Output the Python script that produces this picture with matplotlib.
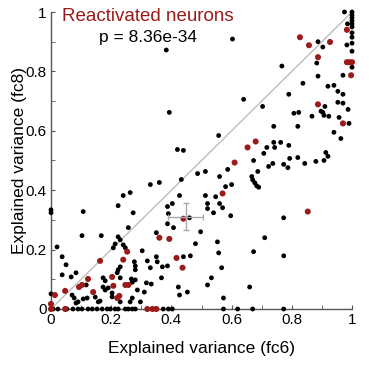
import numpy as np
import matplotlib
matplotlib.use("Agg")
import matplotlib.pyplot as plt

plt.rcParams['font.family'] = ['Liberation Sans', 'DejaVu Sans']

# all neurons (fc6 vs fc8 explained variance)
black_x = [1.0, 1.0, 1.0, 1.0, 1.0, 0.985, 1.0, 1.0, 1.0, 0.975,
           0.983, 1.0, 1.0, 1.0, 0.97, 0.953, 0.97, 0.953, 0.97, 0.987, 0.99, 0.963, 0.94,
           0.887, 0.903, 0.883, 0.767, 0.887, 0.837, 0.92, 0.94, 0.79, 0.64, 0.703, 0.91,
           0.823, 0.807, 0.897, 0.867, 0.903, 0.907, 0.923, 0.957,
           0.74, 0.82, 0.717, 0.74, 0.743, 0.763, 0.79, 0.707, 0.673, 0.793, 0.82, 0.843,
           0.88, 0.907, 0.913, 0.92, 0.723, 0.737, 0.773, 0.787, 0.687, 0.667, 0.67, 0.677,
           0.683, 0.69, 0.773, 0.603, 0.557, 0.383, 0.393, 0.42, 0.44,
           0.513, 0.587, 0.56, 0.58, 0.60, 0.513, 0.547, 0.52, 0.52, 0.54, 0.56, 0.57, 0.597,
           0.497, 0.71, 0.553, 0.557, 0.673, 0.773, 0.567, 0.533, 0.52, 0.66, 0.573,
           0.33, 0.36, 0.433, 0.487, 0.427, 0.387, 0.403, 0.39, 0.387, 0.407, 0.46, 0.48,
           0.44, 0.463, 0.423, 0.427, 0.453,
           0.24, 0.263, 0.223, 0.107, 0.273, 0.0, 0.0,
           0.257, 0.35, 0.303, 0.32, 0.35, 0.353, 0.33, 0.37, 0.387, 0.367, 0.317, 0.333,
           0.31, 0.27,
           0.02, 0.103, 0.167, 0.223, 0.23, 0.213, 0.207, 0.24, 0.247, 0.037, 0.05, 0.23,
           0.223, 0.277, 0.28, 0.28, 0.037, 0.067, 0.083, 0.173, 0.18, 0.22, 0.23, 0.267,
           0.28, 0.117, 0.173, 0.18, 0.19, 0.203, 0.203, 0.287, 0.27, 0.07, 0.077, 0.147,
           0.107, 0.12, 0.09, 0.083, 0.157, 0.163, 0.23, 0.263, 0.297, 0.0,
           0.007, 0.023, 0.053, 0.073, 0.09, 0.103, 0.123, 0.137, 0.153, 0.17, 0.187,
           0.197, 0.213, 0.223, 0.247, 0.257, 0.27, 0.28, 0.373, 0.39, 0.403, 0.573,
           0.62, 0.67, 0.773]
black_y = [1.0, 0.99, 0.98, 0.97, 0.96, 0.96, 0.95, 0.93, 0.915, 1.0,
           0.889, 0.895, 0.868, 0.814, 0.787, 0.733, 0.723, 0.696, 0.693, 0.672, 0.625, 0.574, 0.595,
           0.90, 0.882, 0.828, 0.818, 0.784, 0.76, 0.75, 0.753, 0.723, 0.706, 0.682, 0.682,
           0.662, 0.659, 0.666, 0.649, 0.662, 0.652, 0.649, 0.645,
           0.615, 0.615, 0.544, 0.561, 0.544, 0.561, 0.551, 0.524, 0.50, 0.507, 0.51, 0.49,
           0.497, 0.50, 0.527, 0.514, 0.48, 0.49, 0.487, 0.476, 0.463, 0.446, 0.435, 0.425,
           0.415, 0.41, 0.307, 0.909, 0.584, 0.872, 0.662, 0.537, 0.534,
           0.463, 0.47, 0.446, 0.412, 0.419, 0.382, 0.378, 0.355, 0.338, 0.324, 0.355, 0.341, 0.314,
           0.26, 0.24, 0.226, 0.189, 0.193, 0.179, 0.139, 0.105, 0.081, 0.074, 0.037,
           0.419, 0.426, 0.436, 0.456, 0.382, 0.345, 0.355, 0.321, 0.287, 0.274, 0.307, 0.22,
           0.176, 0.179, 0.074, 0.047, 0.057,
           0.382, 0.392, 0.348, 0.328, 0.324, 0.334, 0.324,
           0.274, 0.257, 0.196, 0.162, 0.176, 0.159, 0.139, 0.142, 0.145, 0.105, 0.088, 0.084,
           0.057, 0.09,
           0.209, 0.247, 0.247, 0.243, 0.233, 0.219, 0.206, 0.216, 0.206, 0.176, 0.149, 0.142,
           0.132, 0.159, 0.145, 0.132, 0.115, 0.108, 0.122, 0.105, 0.095, 0.122, 0.105, 0.101,
           0.098, 0.081, 0.074, 0.064, 0.071, 0.054, 0.041, 0.064, 0.037, 0.047, 0.037, 0.04,
           0.034, 0.037, 0.024, 0.02, 0.024, 0.027, 0.024, 0.024, 0.024, 0.051,
           0.0, 0.0, 0.0, 0.0, 0.0, 0.0, 0.0, 0.0, 0.0, 0.0, 0.0,
           0.0, 0.0, 0.0, 0.0, 0.0, 0.0, 0.0, 0.0, 0.0, 0.0, 0.0,
           0.0, 0.0, 0.0]

# reactivated neurons
red_x = [0.983, 0.827, 0.857, 0.927, 0.887, 0.983, 0.99, 1.0, 0.997, 0.887, 0.97,
         0.653, 0.68, 0.61, 0.57, 0.853, 0.44, 0.36, 0.393, 0.417, 0.437, 0.163, 0.24,
         0.253, 0.203, 0.123, 0.093, 0.103, 0.207, 0.247, 0.257, 0.14, 0.227, 0.22,
         0.047, 0.013, 0.0, 0.0, 0.047, 0.32, 0.337, 0.35]
red_y = [0.94, 0.915, 0.888, 0.899, 0.848, 0.831, 0.831, 0.831, 0.787, 0.689, 0.625,
         0.544, 0.564, 0.493, 0.389, 0.328, 0.304, 0.24, 0.236, 0.172, 0.139, 0.162, 0.166,
         0.193, 0.108, 0.101, 0.074, 0.081, 0.078, 0.081, 0.081, 0.057, 0.044, 0.037,
         0.061, 0.047, 0.017, 0.0, 0.0, 0.0, 0.0, 0.0]

# mean +- sem of reactivated neurons
mean_x, mean_y = 0.447, 0.311
err_x, err_y = 0.057, 0.046

fig = plt.figure(figsize=(3.69, 3.70), dpi=100)
ax = fig.add_axes([51/369, 61/370, 301/369, 297/370])

ax.plot([0, 1], [0, 1], color='#bdbdbd', lw=1, zorder=1)
ax.scatter(black_x, black_y, s=12, c='k', edgecolors='none', zorder=3, clip_on=False)
ax.scatter(red_x, red_y, s=19, c='#9b1a1a', edgecolors='none', zorder=4, clip_on=False)
ax.errorbar(mean_x, mean_y, xerr=err_x, yerr=err_y, fmt='none', ecolor='#aaaaaa',
            elinewidth=1, capsize=2, zorder=5)

ax.set_xlim(0, 1)
ax.set_ylim(0, 1)
ax.set_xticks([0, 0.2, 0.4, 0.6, 0.8, 1])
ax.set_xticklabels(['0', '0.2', '0.4', '0.6', '0.8', '1'])
ax.set_yticks([0, 0.2, 0.4, 0.6, 0.8, 1])
ax.set_yticklabels(['0', '0.2', '0.4', '0.6', '0.8', '1'])
ax.set_xticks(np.arange(0.1, 1, 0.2), minor=True)
ax.set_yticks(np.arange(0.1, 1, 0.2), minor=True)
ax.tick_params(which='both', direction='in', length=3, color='#555555', labelsize=11, pad=3)
for side in ['top', 'right']:
    ax.spines[side].set_visible(False)
for side in ['left', 'bottom']:
    ax.spines[side].set_color('#555555')
    ax.spines[side].set_linewidth(1)

ax.set_xlabel('Explained variance (fc6)', fontsize=12.5, labelpad=10)
ax.set_ylabel('Explained variance (fc8)', fontsize=12.5, labelpad=-1)

ax.text(0.323, 0.985, 'Reactivated neurons', color='#9b1a1a', fontsize=13.5,
        ha='center', va='center', transform=ax.transAxes)
ax.text(0.323, 0.913, 'p = 8.36e-34', color='k', fontsize=12.5,
        ha='center', va='center', transform=ax.transAxes)

fig.savefig('out.png', dpi=100)
